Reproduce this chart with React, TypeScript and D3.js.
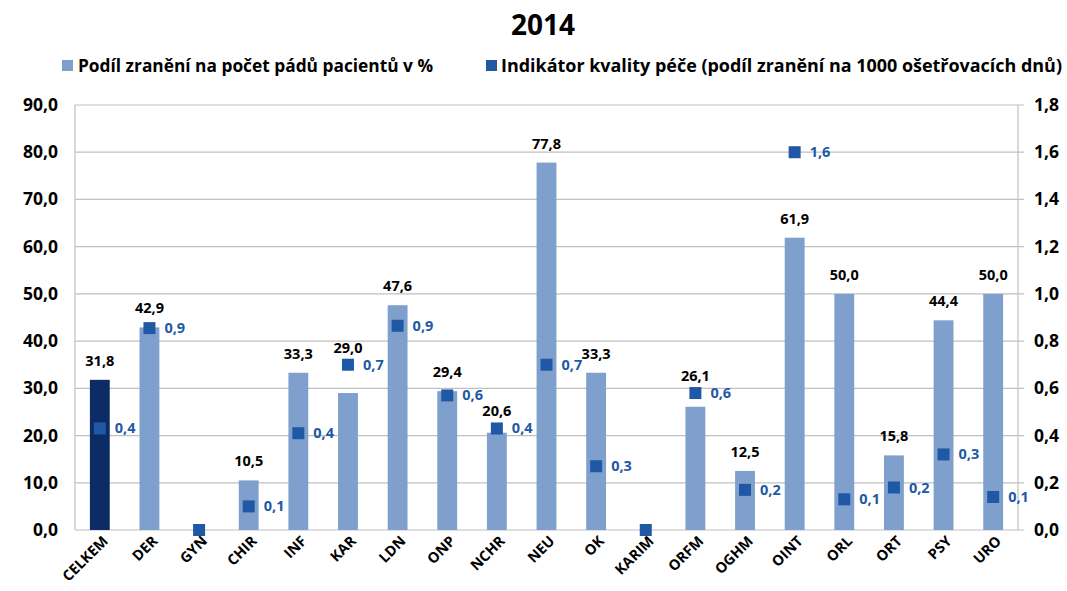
import React from 'react';
import * as d3 from 'd3';

const categories = ['CELKEM', 'DER', 'GYN', 'CHIR', 'INF', 'KAR', 'LDN', 'ONP', 'NCHR', 'NEU', 'OK', 'KARIM', 'ORFM', 'OGHM', 'OINT', 'ORL', 'ORT', 'PSY', 'URO'];
// Podíl zranění na počet pádů pacientů v %
const injuryShare = [31.8, 42.9, 0, 10.5, 33.3, 29.0, 47.6, 29.4, 20.6, 77.8, 33.3, 0, 26.1, 12.5, 61.9, 50.0, 15.8, 44.4, 50.0];
// Indikátor kvality péče (estimated positions, labels rounded)
const indicator = [0.43, 0.855, 0, 0.1, 0.41, 0.7, 0.865, 0.57, 0.43, 0.7, 0.27, 0, 0.58, 0.17, 1.6, 0.13, 0.18, 0.32, 0.14];
const leftTicks = [0, 10, 20, 30, 40, 50, 60, 70, 80, 90];
const rightTicks = [0, 0.2, 0.4, 0.6, 0.8, 1.0, 1.2, 1.4, 1.6, 1.8];

const W = 1067;
const H = 591;
const plot = { left: 75, right: 1018, top: 105, bottom: 530 };
const font = '"Open Sans", sans-serif';

const fmt1 = (v: number) => d3.format('.1f')(v).replace('.', ',');

export default function App() {
  const x = d3.scaleBand<string>().domain(categories).range([plot.left, plot.right]).paddingInner(0.6).paddingOuter(0.3);
  const yL = d3.scaleLinear().domain([0, 90]).range([plot.bottom, plot.top]);
  const yR = d3.scaleLinear().domain([0, 1.8]).range([plot.bottom, plot.top]);
  const bw = x.bandwidth();
  const light = '#7f9fcc';
  const dark = '#0d2c66';
  const marker = '#1f59a5';

  return (
    <svg width={W} height={H} style={{ position: 'absolute', left: 0, top: 0, background: '#fff' }} fontFamily={font}>
      <text x={543} y={35} textAnchor="middle" fontSize={28} fontWeight="bold">2014</text>

      {/* legend */}
      <rect x={62} y={60} width={11} height={11} fill={light} />
      <text x={78} y={72} fontSize={17} fontWeight="bold" textLength={355} lengthAdjust="spacingAndGlyphs">Podíl zranění na počet pádů pacientů v %</text>
      <rect x={486} y={60} width={11} height={11} fill={marker} />
      <text x={501} y={72} fontSize={17} fontWeight="bold" textLength={561} lengthAdjust="spacingAndGlyphs">Indikátor kvality péče (podíl zranění na 1000 ošetřovacích dnů)</text>

      {/* grid */}
      {leftTicks.map(t => (
        <g key={'g' + t}>
          <line x1={plot.left} x2={plot.right + 6} y1={yL(t)} y2={yL(t)} stroke="#c0c0c0" strokeWidth={1.2} />
          <text x={58} y={yL(t) + 6} textAnchor="end" fontSize={17.5} fontWeight="bold">{fmt1(t)}</text>
        </g>
      ))}
      {rightTicks.map(t => (
        <text key={'r' + t} x={1034} y={yR(t) + 6} fontSize={17.5} fontWeight="bold">{fmt1(t)}</text>
      ))}
      <line x1={plot.left} x2={plot.left} y1={plot.top} y2={plot.bottom} stroke="#c0c0c0" strokeWidth={1.2} />
      <line x1={plot.right} x2={plot.right} y1={plot.top} y2={plot.bottom} stroke="#c0c0c0" strokeWidth={1.2} />

      {/* bars */}
      {categories.map((c, i) => {
        const v = injuryShare[i];
        const bx = x(c)!;
        return (
          <rect key={'b' + c} x={bx} y={yL(v)} width={bw} height={plot.bottom - yL(v)} fill={i === 0 ? dark : light} />
        );
      })}

      {/* markers */}
      {categories.map((c, i) => {
        const v = indicator[i];
        const cx = x(c)! + bw / 2;
        return (
          <g key={'m' + c}>
            <rect x={cx - 6} y={yR(v) - 6} width={12} height={12} fill={marker} />
            {v > 0 && (
              <text x={cx + 15} y={yR(v) + 5} fontSize={14.5} fontWeight="bold" fill={marker}>{fmt1(Math.round(v * 10) / 10)}</text>
            )}
          </g>
        );
      })}

      {/* bar value labels, lifted above the marker when it sits near the bar top */}
      {categories.map((c, i) => {
        const v = injuryShare[i];
        if (v <= 0) return null;
        const cx = x(c)! + bw / 2;
        const top = yL(v);
        const my = yR(indicator[i]);
        const near = my < top + 10 && my > top - 40;
        const labelCenter = near ? Math.min(top - 19, my - 17) : top - 19;
        return (
          <text key={'l' + c} x={cx} y={labelCenter + 5} textAnchor="middle" fontSize={14.5} fontWeight="bold">{fmt1(v)}</text>
        );
      })}

      {/* x labels */}
      {categories.map(c => {
        const cx = x(c)! + bw / 2;
        return (
          <text key={'x' + c} transform={`translate(${cx + 9},${542}) rotate(-45)`} textAnchor="end" fontSize={14.5} fontWeight="bold">{c}</text>
        );
      })}
    </svg>
  );
}
